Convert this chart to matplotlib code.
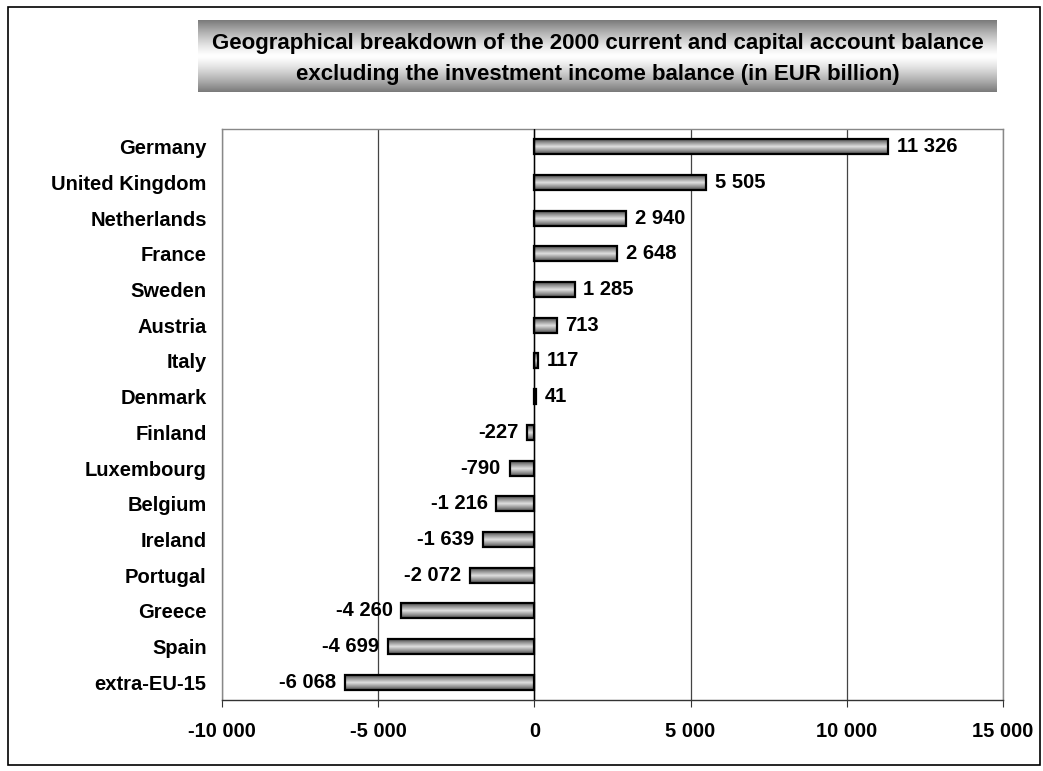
import numpy as np
import matplotlib.pyplot as plt
from matplotlib.patches import Rectangle
from matplotlib.colors import LinearSegmentedColormap

countries = ["Germany", "United Kingdom", "Netherlands", "France", "Sweden",
             "Austria", "Italy", "Denmark", "Finland", "Luxembourg", "Belgium",
             "Ireland", "Portugal", "Greece", "Spain", "extra-EU-15"]
values = [11326, 5505, 2940, 2648, 1285, 713, 117, 41, -227, -790, -1216,
          -1639, -2072, -4260, -4699, -6068]
xticks = [-10000, -5000, 0, 5000, 10000, 15000]

title = ("Geographical breakdown of the 2000 current and capital account balance\n"
         "excluding the investment income balance (in EUR billion)")

plt.rcParams['font.family'] = ['Liberation Sans', 'DejaVu Sans']


def fmt(v):
    s = f"{abs(v):,}".replace(",", " ")
    return ("-" if v < 0 else "") + s


fig = plt.figure(figsize=(10.43, 7.71), dpi=100)

# outer border
fig.patches.append(Rectangle((8 / 1043, 6 / 771), 1032 / 1043, 758 / 771,
                             transform=fig.transFigure, fill=False,
                             edgecolor="black", linewidth=1.2))

# title box with vertical gradient
tax = fig.add_axes([198 / 1043, 1 - 92 / 771, 799 / 1043, 72 / 771])
grad = np.abs(np.linspace(-1, 1, 200)) ** 1.3
tcmap = LinearSegmentedColormap.from_list("t", ["#ffffff", "#7a7a7a"])
tax.imshow(grad[:, None], aspect="auto", cmap=tcmap, vmin=0, vmax=1,
           extent=[0, 1, 0, 1])
tax.set_xlim(0, 1)
tax.set_ylim(0, 1)
tax.axis("off")
tax.text(0.5, 0.46, title, ha="center", va="center", fontsize=16,
         fontweight="bold", linespacing=1.6)

ax = fig.add_axes([222 / 1043, 1 - 700 / 771, 781 / 1043, 571 / 771])
y = np.arange(len(countries))
bars = ax.barh(y, values, height=0.42, color="none", edgecolor="black",
               linewidth=1.6, zorder=3)

# striped gradient fill for bars
bcmap = LinearSegmentedColormap.from_list("b", ["#505050", "#9a9a9a", "#e0e0e0",
                                                  "#9a9a9a", "#505050"])
bgrad = np.linspace(0, 1, 50)[:, None]
for b in bars:
    x0 = b.get_x()
    w = b.get_width()
    yb = b.get_y()
    h = b.get_height()
    im = ax.imshow(bgrad, aspect="auto", cmap=bcmap,
                   extent=[min(x0, x0 + w), max(x0, x0 + w), yb + h, yb],
                   zorder=2, interpolation="bilinear")
    im.set_clip_path(b)

for yi, v in zip(y, values):
    if v >= 0:
        ax.text(v + 280, yi, fmt(v), ha="left", va="center", fontsize=14.5,
                fontweight="bold")
    else:
        ax.text(v - 280, yi, fmt(v), ha="right", va="center", fontsize=14.5,
                fontweight="bold")

ax.set_xlim(-10000, 15000)
ax.set_ylim(len(countries) - 0.5, -0.5)
ax.set_xticks(xticks)
ax.set_xticklabels([fmt(t) for t in xticks], fontsize=14.5, fontweight="bold")
ax.set_yticks(y)
ax.set_yticklabels(countries, fontsize=14.5, fontweight="bold")
ax.tick_params(axis="y", length=0, pad=11)
ax.tick_params(axis="x", length=5, direction="out", pad=11, color="#333333")
ax.xaxis.grid(True, color="#444444", linewidth=0.9, zorder=0)
ax.axvline(0, color="black", linewidth=1.0, zorder=4)
for s in ["left", "right", "top"]:
    ax.spines[s].set_color("#888888")
    ax.spines[s].set_linewidth(1.0)
ax.spines["bottom"].set_color("#333333")
ax.spines["bottom"].set_linewidth(1.0)
ax.set_axisbelow(True)

fig.savefig("out.png", dpi=100)
